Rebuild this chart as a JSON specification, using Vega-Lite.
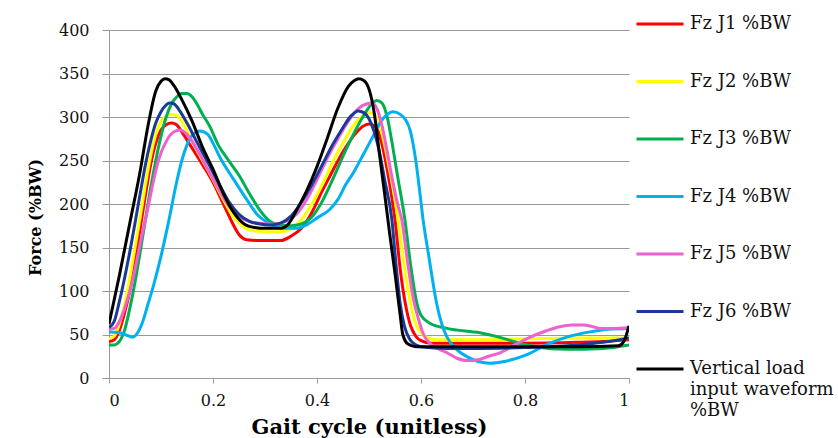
{
  "$schema": "https://vega.github.io/schema/vega-lite/v6.json",
  "autosize": "none",
  "width": 520,
  "height": 348,
  "padding": {"left": 109, "top": 30, "right": 209, "bottom": 60},
  "background": "white",
  "config": {
    "font": "DejaVu Serif",
    "view": {"stroke": null},
    "axis": {"labelFont": "DejaVu Serif", "titleFont": "DejaVu Serif", "labelColor": "#111111", "titleColor": "#000000"}
  },
  "datasets": {
    "gait": [
      {"series": "Fz J1 %BW", "x": 0, "y": 42}, {"series": "Fz J1 %BW", "x": 0.01, "y": 44}, {"series": "Fz J1 %BW", "x": 0.02, "y": 55}, {"series": "Fz J1 %BW", "x": 0.03, "y": 75}, {"series": "Fz J1 %BW", "x": 0.04, "y": 100}, {"series": "Fz J1 %BW", "x": 0.05, "y": 135}, {"series": "Fz J1 %BW", "x": 0.06, "y": 172}, {"series": "Fz J1 %BW", "x": 0.07, "y": 210}, {"series": "Fz J1 %BW", "x": 0.08, "y": 245}, {"series": "Fz J1 %BW", "x": 0.09, "y": 270}, {"series": "Fz J1 %BW", "x": 0.1, "y": 285}, {"series": "Fz J1 %BW", "x": 0.11, "y": 291}, {"series": "Fz J1 %BW", "x": 0.12, "y": 293}, {"series": "Fz J1 %BW", "x": 0.13, "y": 291}, {"series": "Fz J1 %BW", "x": 0.14, "y": 283}, {"series": "Fz J1 %BW", "x": 0.16, "y": 264}, {"series": "Fz J1 %BW", "x": 0.18, "y": 245}, {"series": "Fz J1 %BW", "x": 0.2, "y": 225}, {"series": "Fz J1 %BW", "x": 0.22, "y": 200}, {"series": "Fz J1 %BW", "x": 0.24, "y": 175}, {"series": "Fz J1 %BW", "x": 0.25, "y": 165}, {"series": "Fz J1 %BW", "x": 0.265, "y": 159}, {"series": "Fz J1 %BW", "x": 0.29, "y": 158}, {"series": "Fz J1 %BW", "x": 0.33, "y": 158}, {"series": "Fz J1 %BW", "x": 0.35, "y": 163}, {"series": "Fz J1 %BW", "x": 0.37, "y": 172}, {"series": "Fz J1 %BW", "x": 0.39, "y": 190}, {"series": "Fz J1 %BW", "x": 0.41, "y": 215}, {"series": "Fz J1 %BW", "x": 0.43, "y": 238}, {"series": "Fz J1 %BW", "x": 0.45, "y": 260}, {"series": "Fz J1 %BW", "x": 0.47, "y": 278}, {"series": "Fz J1 %BW", "x": 0.49, "y": 290}, {"series": "Fz J1 %BW", "x": 0.5, "y": 292}, {"series": "Fz J1 %BW", "x": 0.51, "y": 290}, {"series": "Fz J1 %BW", "x": 0.52, "y": 280}, {"series": "Fz J1 %BW", "x": 0.53, "y": 255}, {"series": "Fz J1 %BW", "x": 0.54, "y": 222}, {"series": "Fz J1 %BW", "x": 0.55, "y": 182}, {"series": "Fz J1 %BW", "x": 0.56, "y": 125}, {"series": "Fz J1 %BW", "x": 0.57, "y": 85}, {"series": "Fz J1 %BW", "x": 0.58, "y": 60}, {"series": "Fz J1 %BW", "x": 0.59, "y": 48}, {"series": "Fz J1 %BW", "x": 0.6, "y": 43}, {"series": "Fz J1 %BW", "x": 0.62, "y": 40}, {"series": "Fz J1 %BW", "x": 0.7, "y": 40}, {"series": "Fz J1 %BW", "x": 0.8, "y": 40}, {"series": "Fz J1 %BW", "x": 0.9, "y": 41}, {"series": "Fz J1 %BW", "x": 0.95, "y": 42}, {"series": "Fz J1 %BW", "x": 1, "y": 44},

      {"series": "Fz J2 %BW", "x": 0, "y": 45}, {"series": "Fz J2 %BW", "x": 0.01, "y": 48}, {"series": "Fz J2 %BW", "x": 0.02, "y": 62}, {"series": "Fz J2 %BW", "x": 0.03, "y": 85}, {"series": "Fz J2 %BW", "x": 0.04, "y": 115}, {"series": "Fz J2 %BW", "x": 0.05, "y": 150}, {"series": "Fz J2 %BW", "x": 0.06, "y": 185}, {"series": "Fz J2 %BW", "x": 0.07, "y": 222}, {"series": "Fz J2 %BW", "x": 0.08, "y": 255}, {"series": "Fz J2 %BW", "x": 0.09, "y": 280}, {"series": "Fz J2 %BW", "x": 0.1, "y": 295}, {"series": "Fz J2 %BW", "x": 0.11, "y": 301}, {"series": "Fz J2 %BW", "x": 0.12, "y": 303}, {"series": "Fz J2 %BW", "x": 0.13, "y": 302}, {"series": "Fz J2 %BW", "x": 0.14, "y": 295}, {"series": "Fz J2 %BW", "x": 0.16, "y": 272}, {"series": "Fz J2 %BW", "x": 0.18, "y": 250}, {"series": "Fz J2 %BW", "x": 0.2, "y": 228}, {"series": "Fz J2 %BW", "x": 0.22, "y": 205}, {"series": "Fz J2 %BW", "x": 0.24, "y": 185}, {"series": "Fz J2 %BW", "x": 0.26, "y": 173}, {"series": "Fz J2 %BW", "x": 0.28, "y": 169}, {"series": "Fz J2 %BW", "x": 0.33, "y": 168}, {"series": "Fz J2 %BW", "x": 0.35, "y": 172}, {"series": "Fz J2 %BW", "x": 0.37, "y": 182}, {"series": "Fz J2 %BW", "x": 0.39, "y": 200}, {"series": "Fz J2 %BW", "x": 0.41, "y": 222}, {"series": "Fz J2 %BW", "x": 0.43, "y": 248}, {"series": "Fz J2 %BW", "x": 0.45, "y": 270}, {"series": "Fz J2 %BW", "x": 0.47, "y": 290}, {"series": "Fz J2 %BW", "x": 0.49, "y": 302}, {"series": "Fz J2 %BW", "x": 0.5, "y": 305}, {"series": "Fz J2 %BW", "x": 0.51, "y": 303}, {"series": "Fz J2 %BW", "x": 0.52, "y": 292}, {"series": "Fz J2 %BW", "x": 0.53, "y": 268}, {"series": "Fz J2 %BW", "x": 0.54, "y": 238}, {"series": "Fz J2 %BW", "x": 0.55, "y": 205}, {"series": "Fz J2 %BW", "x": 0.556, "y": 182}, {"series": "Fz J2 %BW", "x": 0.57, "y": 120}, {"series": "Fz J2 %BW", "x": 0.58, "y": 85}, {"series": "Fz J2 %BW", "x": 0.59, "y": 62}, {"series": "Fz J2 %BW", "x": 0.6, "y": 52}, {"series": "Fz J2 %BW", "x": 0.61, "y": 47}, {"series": "Fz J2 %BW", "x": 0.63, "y": 44}, {"series": "Fz J2 %BW", "x": 0.7, "y": 44}, {"series": "Fz J2 %BW", "x": 0.8, "y": 45}, {"series": "Fz J2 %BW", "x": 0.9, "y": 46}, {"series": "Fz J2 %BW", "x": 1, "y": 46},

      {"series": "Fz J3 %BW", "x": 0, "y": 38}, {"series": "Fz J3 %BW", "x": 0.01, "y": 38}, {"series": "Fz J3 %BW", "x": 0.02, "y": 42}, {"series": "Fz J3 %BW", "x": 0.03, "y": 55}, {"series": "Fz J3 %BW", "x": 0.04, "y": 80}, {"series": "Fz J3 %BW", "x": 0.05, "y": 110}, {"series": "Fz J3 %BW", "x": 0.06, "y": 145}, {"series": "Fz J3 %BW", "x": 0.07, "y": 182}, {"series": "Fz J3 %BW", "x": 0.08, "y": 218}, {"series": "Fz J3 %BW", "x": 0.09, "y": 250}, {"series": "Fz J3 %BW", "x": 0.1, "y": 278}, {"series": "Fz J3 %BW", "x": 0.11, "y": 300}, {"series": "Fz J3 %BW", "x": 0.12, "y": 315}, {"series": "Fz J3 %BW", "x": 0.13, "y": 323}, {"series": "Fz J3 %BW", "x": 0.14, "y": 327}, {"series": "Fz J3 %BW", "x": 0.15, "y": 327}, {"series": "Fz J3 %BW", "x": 0.16, "y": 323}, {"series": "Fz J3 %BW", "x": 0.17, "y": 314}, {"series": "Fz J3 %BW", "x": 0.18, "y": 303}, {"series": "Fz J3 %BW", "x": 0.194, "y": 289}, {"series": "Fz J3 %BW", "x": 0.21, "y": 268}, {"series": "Fz J3 %BW", "x": 0.23, "y": 250}, {"series": "Fz J3 %BW", "x": 0.25, "y": 233}, {"series": "Fz J3 %BW", "x": 0.27, "y": 212}, {"series": "Fz J3 %BW", "x": 0.29, "y": 193}, {"series": "Fz J3 %BW", "x": 0.31, "y": 180}, {"series": "Fz J3 %BW", "x": 0.33, "y": 176}, {"series": "Fz J3 %BW", "x": 0.35, "y": 175}, {"series": "Fz J3 %BW", "x": 0.37, "y": 177}, {"series": "Fz J3 %BW", "x": 0.39, "y": 185}, {"series": "Fz J3 %BW", "x": 0.41, "y": 203}, {"series": "Fz J3 %BW", "x": 0.43, "y": 228}, {"series": "Fz J3 %BW", "x": 0.45, "y": 255}, {"series": "Fz J3 %BW", "x": 0.47, "y": 280}, {"series": "Fz J3 %BW", "x": 0.49, "y": 302}, {"series": "Fz J3 %BW", "x": 0.505, "y": 315}, {"series": "Fz J3 %BW", "x": 0.515, "y": 319}, {"series": "Fz J3 %BW", "x": 0.525, "y": 316}, {"series": "Fz J3 %BW", "x": 0.535, "y": 300}, {"series": "Fz J3 %BW", "x": 0.545, "y": 268}, {"series": "Fz J3 %BW", "x": 0.555, "y": 232}, {"series": "Fz J3 %BW", "x": 0.569, "y": 182}, {"series": "Fz J3 %BW", "x": 0.58, "y": 130}, {"series": "Fz J3 %BW", "x": 0.592, "y": 86}, {"series": "Fz J3 %BW", "x": 0.6, "y": 72}, {"series": "Fz J3 %BW", "x": 0.617, "y": 63}, {"series": "Fz J3 %BW", "x": 0.65, "y": 57}, {"series": "Fz J3 %BW", "x": 0.713, "y": 52}, {"series": "Fz J3 %BW", "x": 0.75, "y": 47}, {"series": "Fz J3 %BW", "x": 0.79, "y": 40}, {"series": "Fz J3 %BW", "x": 0.82, "y": 36}, {"series": "Fz J3 %BW", "x": 0.88, "y": 33}, {"series": "Fz J3 %BW", "x": 0.95, "y": 34}, {"series": "Fz J3 %BW", "x": 1, "y": 38},

      {"series": "Fz J4 %BW", "x": 0, "y": 53}, {"series": "Fz J4 %BW", "x": 0.02, "y": 52}, {"series": "Fz J4 %BW", "x": 0.035, "y": 49}, {"series": "Fz J4 %BW", "x": 0.046, "y": 47}, {"series": "Fz J4 %BW", "x": 0.055, "y": 52}, {"series": "Fz J4 %BW", "x": 0.065, "y": 65}, {"series": "Fz J4 %BW", "x": 0.075, "y": 85}, {"series": "Fz J4 %BW", "x": 0.085, "y": 105}, {"series": "Fz J4 %BW", "x": 0.1, "y": 140}, {"series": "Fz J4 %BW", "x": 0.114, "y": 178}, {"series": "Fz J4 %BW", "x": 0.13, "y": 225}, {"series": "Fz J4 %BW", "x": 0.14, "y": 250}, {"series": "Fz J4 %BW", "x": 0.15, "y": 268}, {"series": "Fz J4 %BW", "x": 0.16, "y": 279}, {"series": "Fz J4 %BW", "x": 0.175, "y": 284}, {"series": "Fz J4 %BW", "x": 0.19, "y": 280}, {"series": "Fz J4 %BW", "x": 0.2, "y": 270}, {"series": "Fz J4 %BW", "x": 0.213, "y": 254}, {"series": "Fz J4 %BW", "x": 0.24, "y": 228}, {"series": "Fz J4 %BW", "x": 0.265, "y": 205}, {"series": "Fz J4 %BW", "x": 0.285, "y": 188}, {"series": "Fz J4 %BW", "x": 0.304, "y": 179}, {"series": "Fz J4 %BW", "x": 0.32, "y": 174}, {"series": "Fz J4 %BW", "x": 0.335, "y": 172}, {"series": "Fz J4 %BW", "x": 0.36, "y": 172}, {"series": "Fz J4 %BW", "x": 0.38, "y": 176}, {"series": "Fz J4 %BW", "x": 0.4, "y": 184}, {"series": "Fz J4 %BW", "x": 0.425, "y": 194}, {"series": "Fz J4 %BW", "x": 0.44, "y": 205}, {"series": "Fz J4 %BW", "x": 0.455, "y": 222}, {"series": "Fz J4 %BW", "x": 0.47, "y": 236}, {"series": "Fz J4 %BW", "x": 0.49, "y": 258}, {"series": "Fz J4 %BW", "x": 0.508, "y": 278}, {"series": "Fz J4 %BW", "x": 0.52, "y": 292}, {"series": "Fz J4 %BW", "x": 0.535, "y": 303}, {"series": "Fz J4 %BW", "x": 0.546, "y": 306}, {"series": "Fz J4 %BW", "x": 0.56, "y": 303}, {"series": "Fz J4 %BW", "x": 0.57, "y": 297}, {"series": "Fz J4 %BW", "x": 0.579, "y": 285}, {"series": "Fz J4 %BW", "x": 0.59, "y": 250}, {"series": "Fz J4 %BW", "x": 0.598, "y": 212}, {"series": "Fz J4 %BW", "x": 0.604, "y": 182}, {"series": "Fz J4 %BW", "x": 0.615, "y": 140}, {"series": "Fz J4 %BW", "x": 0.63, "y": 86}, {"series": "Fz J4 %BW", "x": 0.64, "y": 62}, {"series": "Fz J4 %BW", "x": 0.65, "y": 47}, {"series": "Fz J4 %BW", "x": 0.67, "y": 32}, {"series": "Fz J4 %BW", "x": 0.69, "y": 24}, {"series": "Fz J4 %BW", "x": 0.71, "y": 19}, {"series": "Fz J4 %BW", "x": 0.733, "y": 17}, {"series": "Fz J4 %BW", "x": 0.76, "y": 19}, {"series": "Fz J4 %BW", "x": 0.8, "y": 26}, {"series": "Fz J4 %BW", "x": 0.848, "y": 40}, {"series": "Fz J4 %BW", "x": 0.88, "y": 47}, {"series": "Fz J4 %BW", "x": 0.925, "y": 53}, {"series": "Fz J4 %BW", "x": 0.96, "y": 56}, {"series": "Fz J4 %BW", "x": 1, "y": 57},

      {"series": "Fz J5 %BW", "x": 0, "y": 56}, {"series": "Fz J5 %BW", "x": 0.01, "y": 57}, {"series": "Fz J5 %BW", "x": 0.02, "y": 65}, {"series": "Fz J5 %BW", "x": 0.03, "y": 80}, {"series": "Fz J5 %BW", "x": 0.04, "y": 100}, {"series": "Fz J5 %BW", "x": 0.05, "y": 125}, {"series": "Fz J5 %BW", "x": 0.06, "y": 155}, {"series": "Fz J5 %BW", "x": 0.073, "y": 190}, {"series": "Fz J5 %BW", "x": 0.085, "y": 225}, {"series": "Fz J5 %BW", "x": 0.095, "y": 250}, {"series": "Fz J5 %BW", "x": 0.11, "y": 272}, {"series": "Fz J5 %BW", "x": 0.125, "y": 283}, {"series": "Fz J5 %BW", "x": 0.137, "y": 285}, {"series": "Fz J5 %BW", "x": 0.15, "y": 280}, {"series": "Fz J5 %BW", "x": 0.17, "y": 262}, {"series": "Fz J5 %BW", "x": 0.19, "y": 240}, {"series": "Fz J5 %BW", "x": 0.21, "y": 218}, {"series": "Fz J5 %BW", "x": 0.23, "y": 198}, {"series": "Fz J5 %BW", "x": 0.25, "y": 186}, {"series": "Fz J5 %BW", "x": 0.27, "y": 180}, {"series": "Fz J5 %BW", "x": 0.29, "y": 178}, {"series": "Fz J5 %BW", "x": 0.32, "y": 177}, {"series": "Fz J5 %BW", "x": 0.34, "y": 180}, {"series": "Fz J5 %BW", "x": 0.36, "y": 188}, {"series": "Fz J5 %BW", "x": 0.38, "y": 205}, {"series": "Fz J5 %BW", "x": 0.4, "y": 228}, {"series": "Fz J5 %BW", "x": 0.42, "y": 253}, {"series": "Fz J5 %BW", "x": 0.44, "y": 275}, {"series": "Fz J5 %BW", "x": 0.46, "y": 295}, {"series": "Fz J5 %BW", "x": 0.48, "y": 310}, {"series": "Fz J5 %BW", "x": 0.495, "y": 315}, {"series": "Fz J5 %BW", "x": 0.506, "y": 316}, {"series": "Fz J5 %BW", "x": 0.515, "y": 310}, {"series": "Fz J5 %BW", "x": 0.525, "y": 290}, {"series": "Fz J5 %BW", "x": 0.535, "y": 260}, {"series": "Fz J5 %BW", "x": 0.545, "y": 228}, {"series": "Fz J5 %BW", "x": 0.555, "y": 200}, {"series": "Fz J5 %BW", "x": 0.563, "y": 182}, {"series": "Fz J5 %BW", "x": 0.575, "y": 130}, {"series": "Fz J5 %BW", "x": 0.585, "y": 92}, {"series": "Fz J5 %BW", "x": 0.595, "y": 68}, {"series": "Fz J5 %BW", "x": 0.605, "y": 50}, {"series": "Fz J5 %BW", "x": 0.617, "y": 40}, {"series": "Fz J5 %BW", "x": 0.635, "y": 33}, {"series": "Fz J5 %BW", "x": 0.65, "y": 29}, {"series": "Fz J5 %BW", "x": 0.668, "y": 23}, {"series": "Fz J5 %BW", "x": 0.688, "y": 20}, {"series": "Fz J5 %BW", "x": 0.71, "y": 21}, {"series": "Fz J5 %BW", "x": 0.73, "y": 25}, {"series": "Fz J5 %BW", "x": 0.752, "y": 29}, {"series": "Fz J5 %BW", "x": 0.78, "y": 38}, {"series": "Fz J5 %BW", "x": 0.81, "y": 47}, {"series": "Fz J5 %BW", "x": 0.84, "y": 54}, {"series": "Fz J5 %BW", "x": 0.867, "y": 59}, {"series": "Fz J5 %BW", "x": 0.89, "y": 61}, {"series": "Fz J5 %BW", "x": 0.912, "y": 61}, {"series": "Fz J5 %BW", "x": 0.93, "y": 59}, {"series": "Fz J5 %BW", "x": 0.944, "y": 57}, {"series": "Fz J5 %BW", "x": 0.97, "y": 57}, {"series": "Fz J5 %BW", "x": 1, "y": 58},

      {"series": "Fz J6 %BW", "x": 0, "y": 58}, {"series": "Fz J6 %BW", "x": 0.01, "y": 65}, {"series": "Fz J6 %BW", "x": 0.02, "y": 88}, {"series": "Fz J6 %BW", "x": 0.03, "y": 115}, {"series": "Fz J6 %BW", "x": 0.04, "y": 145}, {"series": "Fz J6 %BW", "x": 0.05, "y": 178}, {"series": "Fz J6 %BW", "x": 0.06, "y": 212}, {"series": "Fz J6 %BW", "x": 0.07, "y": 245}, {"series": "Fz J6 %BW", "x": 0.08, "y": 272}, {"series": "Fz J6 %BW", "x": 0.09, "y": 293}, {"series": "Fz J6 %BW", "x": 0.1, "y": 306}, {"series": "Fz J6 %BW", "x": 0.11, "y": 314}, {"series": "Fz J6 %BW", "x": 0.117, "y": 316}, {"series": "Fz J6 %BW", "x": 0.125, "y": 315}, {"series": "Fz J6 %BW", "x": 0.135, "y": 308}, {"series": "Fz J6 %BW", "x": 0.15, "y": 293}, {"series": "Fz J6 %BW", "x": 0.17, "y": 270}, {"series": "Fz J6 %BW", "x": 0.19, "y": 248}, {"series": "Fz J6 %BW", "x": 0.21, "y": 225}, {"series": "Fz J6 %BW", "x": 0.23, "y": 203}, {"series": "Fz J6 %BW", "x": 0.25, "y": 188}, {"series": "Fz J6 %BW", "x": 0.27, "y": 180}, {"series": "Fz J6 %BW", "x": 0.29, "y": 177}, {"series": "Fz J6 %BW", "x": 0.31, "y": 176}, {"series": "Fz J6 %BW", "x": 0.33, "y": 178}, {"series": "Fz J6 %BW", "x": 0.35, "y": 186}, {"series": "Fz J6 %BW", "x": 0.37, "y": 202}, {"series": "Fz J6 %BW", "x": 0.39, "y": 222}, {"series": "Fz J6 %BW", "x": 0.41, "y": 245}, {"series": "Fz J6 %BW", "x": 0.43, "y": 268}, {"series": "Fz J6 %BW", "x": 0.45, "y": 288}, {"series": "Fz J6 %BW", "x": 0.465, "y": 301}, {"series": "Fz J6 %BW", "x": 0.479, "y": 307}, {"series": "Fz J6 %BW", "x": 0.49, "y": 305}, {"series": "Fz J6 %BW", "x": 0.5, "y": 298}, {"series": "Fz J6 %BW", "x": 0.51, "y": 283}, {"series": "Fz J6 %BW", "x": 0.52, "y": 260}, {"series": "Fz J6 %BW", "x": 0.53, "y": 228}, {"series": "Fz J6 %BW", "x": 0.544, "y": 182}, {"series": "Fz J6 %BW", "x": 0.552, "y": 130}, {"series": "Fz J6 %BW", "x": 0.56, "y": 85}, {"series": "Fz J6 %BW", "x": 0.568, "y": 60}, {"series": "Fz J6 %BW", "x": 0.577, "y": 46}, {"series": "Fz J6 %BW", "x": 0.585, "y": 40}, {"series": "Fz J6 %BW", "x": 0.6, "y": 36}, {"series": "Fz J6 %BW", "x": 0.65, "y": 34}, {"series": "Fz J6 %BW", "x": 0.7, "y": 34}, {"series": "Fz J6 %BW", "x": 0.8, "y": 35}, {"series": "Fz J6 %BW", "x": 0.85, "y": 36}, {"series": "Fz J6 %BW", "x": 0.9, "y": 38}, {"series": "Fz J6 %BW", "x": 0.95, "y": 41}, {"series": "Fz J6 %BW", "x": 1, "y": 46},

      {"series": "Vertical load input waveform %BW", "x": 0, "y": 62}, {"series": "Vertical load input waveform %BW", "x": 0.02, "y": 118}, {"series": "Vertical load input waveform %BW", "x": 0.04, "y": 178}, {"series": "Vertical load input waveform %BW", "x": 0.06, "y": 238}, {"series": "Vertical load input waveform %BW", "x": 0.075, "y": 290}, {"series": "Vertical load input waveform %BW", "x": 0.09, "y": 330}, {"series": "Vertical load input waveform %BW", "x": 0.1, "y": 341}, {"series": "Vertical load input waveform %BW", "x": 0.108, "y": 344}, {"series": "Vertical load input waveform %BW", "x": 0.115, "y": 343}, {"series": "Vertical load input waveform %BW", "x": 0.125, "y": 336}, {"series": "Vertical load input waveform %BW", "x": 0.14, "y": 320}, {"series": "Vertical load input waveform %BW", "x": 0.16, "y": 295}, {"series": "Vertical load input waveform %BW", "x": 0.18, "y": 265}, {"series": "Vertical load input waveform %BW", "x": 0.2, "y": 240}, {"series": "Vertical load input waveform %BW", "x": 0.22, "y": 212}, {"series": "Vertical load input waveform %BW", "x": 0.24, "y": 190}, {"series": "Vertical load input waveform %BW", "x": 0.26, "y": 177}, {"series": "Vertical load input waveform %BW", "x": 0.28, "y": 173}, {"series": "Vertical load input waveform %BW", "x": 0.3, "y": 172}, {"series": "Vertical load input waveform %BW", "x": 0.33, "y": 172}, {"series": "Vertical load input waveform %BW", "x": 0.345, "y": 177}, {"series": "Vertical load input waveform %BW", "x": 0.36, "y": 192}, {"series": "Vertical load input waveform %BW", "x": 0.38, "y": 215}, {"series": "Vertical load input waveform %BW", "x": 0.4, "y": 243}, {"series": "Vertical load input waveform %BW", "x": 0.42, "y": 276}, {"series": "Vertical load input waveform %BW", "x": 0.44, "y": 310}, {"series": "Vertical load input waveform %BW", "x": 0.46, "y": 335}, {"series": "Vertical load input waveform %BW", "x": 0.472, "y": 342}, {"series": "Vertical load input waveform %BW", "x": 0.48, "y": 344}, {"series": "Vertical load input waveform %BW", "x": 0.49, "y": 342}, {"series": "Vertical load input waveform %BW", "x": 0.5, "y": 332}, {"series": "Vertical load input waveform %BW", "x": 0.51, "y": 305}, {"series": "Vertical load input waveform %BW", "x": 0.52, "y": 258}, {"series": "Vertical load input waveform %BW", "x": 0.53, "y": 212}, {"series": "Vertical load input waveform %BW", "x": 0.54, "y": 165}, {"series": "Vertical load input waveform %BW", "x": 0.55, "y": 120}, {"series": "Vertical load input waveform %BW", "x": 0.56, "y": 72}, {"series": "Vertical load input waveform %BW", "x": 0.565, "y": 50}, {"series": "Vertical load input waveform %BW", "x": 0.575, "y": 39}, {"series": "Vertical load input waveform %BW", "x": 0.59, "y": 36}, {"series": "Vertical load input waveform %BW", "x": 0.7, "y": 36}, {"series": "Vertical load input waveform %BW", "x": 0.8, "y": 36}, {"series": "Vertical load input waveform %BW", "x": 0.9, "y": 36}, {"series": "Vertical load input waveform %BW", "x": 0.98, "y": 37}, {"series": "Vertical load input waveform %BW", "x": 0.99, "y": 42}, {"series": "Vertical load input waveform %BW", "x": 1, "y": 60}
    ]
  },
  "data": {"name": "gait"},
  "mark": {"type": "line", "strokeWidth": 3, "interpolate": "monotone", "clip": true},
  "encoding": {
    "x": {
      "field": "x",
      "type": "quantitative",
      "scale": {"domain": [0, 1], "nice": false},
      "axis": {
        "values": [0, 0.2, 0.4, 0.6, 0.8, 1],
        "format": ".1~f",
        "grid": false,
        "domainColor": "#999999",
        "tickColor": "#999999",
        "tickSize": 5,
        "labelFontSize": 16,
        "labelPadding": 9,
        "title": "Gait cycle (unitless)",
        "titleFontSize": 21,
        "titleFontWeight": "bold",
        "titleBaseline": "alphabetic",
        "titleX": 260,
        "titleY": 55,
        "titleAnchor": "middle"
      }
    },
    "y": {
      "field": "y",
      "type": "quantitative",
      "scale": {"domain": [0, 400], "nice": false},
      "axis": {
        "values": [0, 50, 100, 150, 200, 250, 300, 350, 400],
        "grid": true,
        "gridColor": "#999999",
        "gridWidth": 1,
        "domainColor": "#999999",
        "tickColor": "#999999",
        "tickSize": 7,
        "labelFontSize": 16,
        "labelPadding": 13,
        "title": "Force (%BW)",
        "titleFontSize": 16,
        "titleFontWeight": "bold",
        "titleAngle": -90,
        "titleBaseline": "alphabetic",
        "titleAlign": "center",
        "titleX": -69,
        "titleY": 187
      }
    },
    "color": {
      "field": "series",
      "type": "nominal",
      "scale": {
        "domain": ["Fz J1 %BW", "Fz J2 %BW", "Fz J3 %BW", "Fz J4 %BW", "Fz J5 %BW", "Fz J6 %BW", "Vertical load input waveform %BW"],
        "range": ["#ff0000", "#ffff00", "#00b050", "#00b0f0", "#f060d0", "#1a3a9a", "#000000"]
      },
      "legend": {
        "title": null,
        "orient": "none",
        "legendX": 526,
        "legendY": -31,
        "padding": 0,
        "symbolType": "stroke",
        "symbolSize": 2209,
        "symbolStrokeWidth": 3,
        "rowPadding": 23.5,
        "labelFont": "DejaVu Serif",
        "labelFontSize": 18,
        "labelColor": "#111111",
        "labelOffset": 5,
        "labelLimit": 300,
        "labelExpr": "datum.label == 'Vertical load input waveform %BW' ? ['Vertical load', 'input waveform', '%BW'] : datum.label",
        "encode": {"labels": {"update": {"lineHeight": {"value": 21}}}}
      }
    }
  }
}
